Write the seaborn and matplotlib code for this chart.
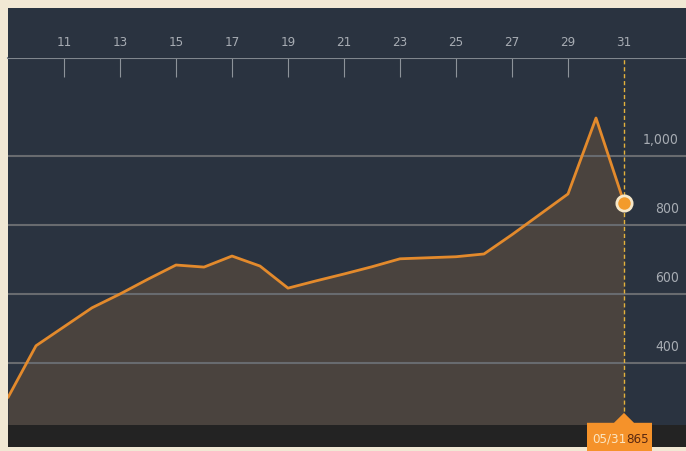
import matplotlib
matplotlib.use("Agg")
import matplotlib.pyplot as plt
import seaborn as sns
import pandas as pd
from matplotlib.patches import Polygon

# daily values, May 9 - May 31
days = list(range(9, 32))
values = [300, 450, 505, 560, 600, 643, 684, 678, 710, 681, 617, 638,
          658, 679, 702, 705, 708, 716, 772, 831, 890, 1110, 865]
x_ticks = list(range(11, 32, 2))
y_ticks = [400, 600, 800, 1000]
last_label = "05/31"

df = pd.DataFrame({"day": days, "value": values})

sns.set_theme(style="dark")
plt.rcParams["font.family"] = ["DejaVu Sans"]
plt.rcParams["font.stretch"] = "condensed"

NAVY = "#2a3340"
FILL = "#4a433e"
ORANGE = "#e38a2c"
GRID = "#686b6f"
TXT = "#a7acb3"

W, H = 686, 451
fig = plt.figure(figsize=(W / 100, H / 100), dpi=100, facecolor="#f1e8d4")

def px_axes(x0, y0, x1, y1):
    return fig.add_axes([x0 / W, 1 - y1 / H, (x1 - x0) / W, (y1 - y0) / H])

xlim = (9, 9 + (W - 8) / 28)
ylim = (220.3, 1284)

ax = px_axes(8, 58, W, 425)
top = px_axes(8, 8, W, 58)
bot = px_axes(8, 425, W, 447)

for a in (ax, top, bot):
    a.set_xlim(*xlim)
    a.set_xticks([])
    a.set_yticks([])
    a.set_xlabel("")
    a.set_ylabel("")
    for s in a.spines.values():
        s.set_visible(False)

top.set_facecolor(NAVY)
top.set_ylim(0, 1)
for d in x_ticks:
    top.text(d, 0.32, str(d), color=TXT, fontsize=9.5, ha="center",
             va="center", fontstretch="condensed")

ax.set_facecolor(NAVY)
ax.set_ylim(*ylim)
ax.fill_between(df["day"], df["value"], ylim[0], color=FILL, zorder=1, lw=0)
for v in y_ticks:
    ax.axhline(v, color=GRID, lw=1.5, zorder=2)
    ax.annotate(f"{v:,}", xy=(1, v), xycoords=("axes fraction", "data"),
                xytext=(-5, 6.5), textcoords="offset points",
                ha="right", va="bottom", color=TXT, fontsize=10,
                fontstretch="condensed")
sns.lineplot(data=df, x="day", y="value", ax=ax, color=ORANGE, lw=2, zorder=4)
ax.set_xlabel("")
ax.set_ylabel("")

# top separator and tick marks
ax.spines["top"].set_visible(True)
ax.spines["top"].set_color("#80868d")
ax.spines["top"].set_linewidth(1.5)
ax.set_xticks(x_ticks[:-1])
ax.tick_params(axis="x", which="both", top=True, bottom=False, labeltop=False,
               labelbottom=False, direction="in", length=13.5, width=0.8,
               color="#8d939a")

# cursor at last point
ax.axvline(days[-1], color="#e3b23c", lw=1, ls=(0, (3, 2)), zorder=3)
ax.plot(days[-1], values[-1], "o", ms=11, mfc="#f39b2b", mec="#f6e7c8",
        mew=2, zorder=5)

bot.set_facecolor("#232323")
bot.set_ylim(0, 1)
bot.axvline(days[-1], color="#e3b23c", lw=1, ls=(0, (3, 2)), ymax=0.2)
box = Polygon([(days[-1] - 37 / 28, -0.2), (days[-1] - 37 / 28, 1.1),
               (days[-1] - 10 / 28, 1.1), (days[-1], 1.55),
               (days[-1] + 10 / 28, 1.1), (days[-1] + 28 / 28, 1.1),
               (days[-1] + 28 / 28, -0.2)],
              closed=True, facecolor="#f5922a", edgecolor="none",
              clip_on=False, zorder=6)
bot.add_patch(box)
bot.text(days[-1] - 0.54, 0.35, last_label, color="#fbe6c2", fontsize=9.5,
         ha="center", va="center", zorder=7, clip_on=False,
         fontstretch="condensed")
bot.text(days[-1] + 0.48, 0.35, f"{values[-1]}", color="#5a2810", fontsize=9.5,
         ha="center", va="center", zorder=7, clip_on=False,
         fontstretch="condensed")

fig.savefig("out.png", dpi=100, facecolor=fig.get_facecolor())
